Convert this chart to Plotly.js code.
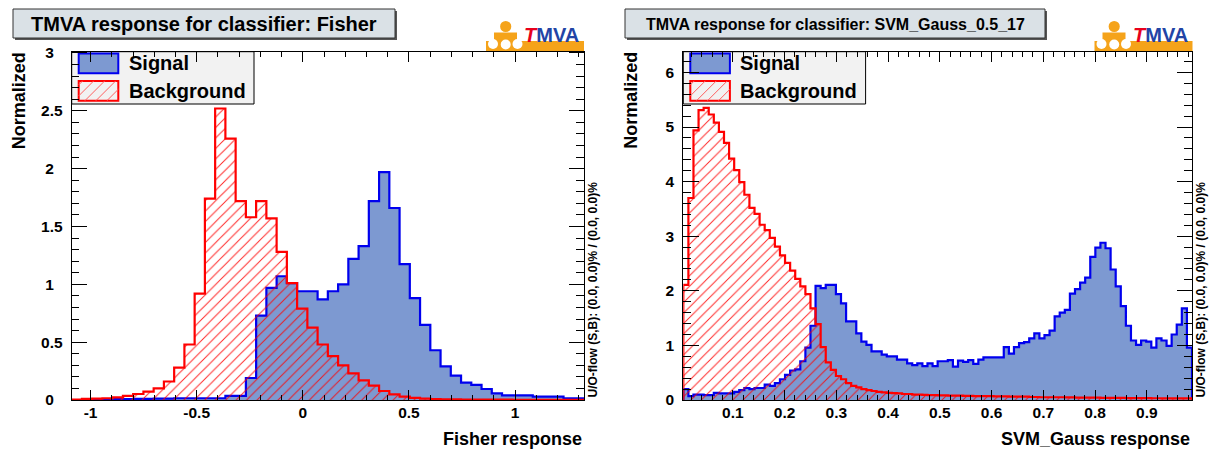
<!DOCTYPE html>
<html><head><meta charset="utf-8">
<script src="https://cdn.plot.ly/plotly-3.0.1.min.js"></script>
<style>html,body{margin:0;padding:0;background:#fff;} #chart{width:1215px;height:453px;}</style>
</head><body><div id="chart"></div>
<script>
// ---------------- data ----------------
// Fisher: 50 bins
const fisherLow = -1.089, fisherBinWidth = 0.04828;
const fisherSignal = [
  0.0, 0.003, 0.005, 0.006, 0.008, 0.008, 0.01, 0.01, 0.012, 0.012,
  0.015, 0.015, 0.015, 0.015, 0.015, 0.035, 0.035, 0.19, 0.73, 0.97,
  1.07, 1.01, 0.94, 0.94, 0.87, 0.94, 1.00, 1.22, 1.33, 1.72,
  1.97, 1.66, 1.175, 0.88, 0.65, 0.43, 0.29, 0.21, 0.15, 0.13,
  0.095, 0.058, 0.04, 0.04, 0.04, 0.03, 0.03, 0.03, 0.015, 0.015];
const fisherBackground = [
  0.004, 0.010, 0.012, 0.015, 0.023, 0.035, 0.052, 0.072, 0.10, 0.16,
  0.28, 0.48, 0.92, 1.74, 2.52, 2.26, 1.72, 1.58, 1.72, 1.57,
  1.28, 1.01, 0.79, 0.625, 0.48, 0.38, 0.30, 0.23, 0.17, 0.125,
  0.078, 0.049, 0.029, 0.018, 0.012, 0.008, 0.006, 0.005, 0.004, 0.004,
  0.003, 0.003, 0.003, 0.002, 0.002, 0.002, 0.002, 0.001, 0.001, 0.001];
// SVM_Gauss: 100 bins
const svmLow = 0.0042, svmBinWidth = 0.009831;
const svmSignal = [
  0.20, 0.07, 0.10, 0.10, 0.09, 0.09, 0.13, 0.12, 0.12, 0.12,
  0.15, 0.18, 0.22, 0.20, 0.22, 0.22, 0.28, 0.26, 0.31, 0.38,
  0.46, 0.54, 0.56, 0.71, 0.96, 1.36, 2.09, 2.05, 2.11, 2.11,
  1.94, 1.77, 1.44, 1.44, 1.22, 1.07, 1.01, 0.89, 0.89, 0.83,
  0.80, 0.80, 0.74, 0.74, 0.67, 0.64, 0.67, 0.62, 0.67, 0.62,
  0.71, 0.71, 0.73, 0.61, 0.72, 0.70, 0.73, 0.66, 0.74, 0.78,
  0.78, 0.78, 0.78, 0.97, 0.85, 0.97, 1.04, 1.06, 1.13, 1.22,
  1.13, 1.19, 1.27, 1.53, 1.60, 1.65, 1.95, 2.03, 2.15, 2.24,
  2.62, 2.79, 2.88, 2.78, 2.39, 2.08, 1.72, 1.36, 1.09, 1.01,
  1.09, 1.07, 0.96, 1.13, 1.09, 0.99, 1.20, 1.38, 1.68, 0.96];
const svmBackground = [
  2.11, 3.70, 4.94, 5.31, 5.35, 5.23, 5.08, 4.91, 4.71, 4.42,
  4.21, 3.99, 3.76, 3.52, 3.41, 3.21, 3.11, 2.97, 2.81, 2.65,
  2.51, 2.37, 2.22, 2.08, 1.94, 1.68, 1.39, 0.97, 0.69, 0.55,
  0.44, 0.38, 0.31, 0.26, 0.23, 0.20, 0.18, 0.165, 0.15, 0.14,
  0.13, 0.125, 0.12, 0.11, 0.11, 0.10, 0.10, 0.095, 0.09, 0.09,
  0.085, 0.085, 0.08, 0.08, 0.08, 0.075, 0.075, 0.07, 0.07, 0.07,
  0.07, 0.065, 0.065, 0.065, 0.06, 0.06, 0.06, 0.06, 0.055, 0.055,
  0.05, 0.05, 0.05, 0.05, 0.05, 0.048, 0.048, 0.045, 0.045, 0.045,
  0.042, 0.042, 0.04, 0.04, 0.04, 0.038, 0.038, 0.035, 0.035, 0.035,
  0.033, 0.033, 0.032, 0.032, 0.03, 0.03, 0.03, 0.03, 0.03, 0.03];

const fisherXTickVals = [-1, -0.5, 0, 0.5, 1];
const fisherXTickText = ["-1", "-0.5", "0", "0.5", "1"];
const fisherYTickVals = [0, 0.5, 1, 1.5, 2, 2.5, 3];
const fisherYTickText = ["0", "0.5", "1", "1.5", "2", "2.5", "3"];
const svmXTickVals = [0.1, 0.2, 0.3, 0.4, 0.5, 0.6, 0.7, 0.8, 0.9];
const svmXTickText = ["0.1", "0.2", "0.3", "0.4", "0.5", "0.6", "0.7", "0.8", "0.9"];
const svmYTickVals = [0, 1, 2, 3, 4, 5, 6];
const svmYTickText = ["0", "1", "2", "3", "4", "5", "6"];

const titles = ["TMVA response for classifier: Fisher", "TMVA response for classifier: SVM_Gauss_0.5_17"];
const xTitles = ["Fisher response", "SVM_Gauss response"];
const yTitle = "Normalized";
const legendLabels = ["Signal", "Background"];
const overflowText = "U/O-flow (S,B): (0.0, 0.0)% / (0.0, 0.0)%";

// ---------------- helpers ----------------
const W = 1215, H = 453;
const FONT = 'Liberation Sans, Arial, Helvetica, sans-serif';
const px = x => x / W, py = y => 1 - y / H;
const SIG_LINE = '#0000ee', SIG_FILL = '#7d99d1', BKG = '#ff0000';

function stepXY(lo, width, vals) {
  const xs = [lo], ys = [0];
  for (let i = 0; i < vals.length; i++) { xs.push(lo + i * width); ys.push(vals[i]); }
  const hi = lo + vals.length * width;
  xs.push(hi); ys.push(vals[vals.length - 1]);
  xs.push(hi); ys.push(0);
  return {x: xs, y: ys};
}
function sigTrace(lo, w, vals, xa, ya) {
  const d = stepXY(lo, w, vals);
  return {x: d.x, y: d.y, xaxis: xa, yaxis: ya, type: 'scatter', mode: 'lines',
    line: {shape: 'hv', color: SIG_LINE, width: 2.2}, fill: 'tozeroy', fillcolor: SIG_FILL,
    hoverinfo: 'skip', showlegend: false};
}
function bkgTrace(lo, w, vals, xa, ya) {
  const d = stepXY(lo, w, vals);
  return {x: d.x, y: d.y, xaxis: xa, yaxis: ya, type: 'scatter', mode: 'lines',
    line: {shape: 'hv', color: BKG, width: 2.2}, fill: 'tozeroy', fillcolor: 'rgba(0,0,0,0)',
    fillpattern: {shape: '/', fgcolor: BKG, bgcolor: 'rgba(0,0,0,0)', size: 7.4, solidity: 0.13, fgopacity: 0.85},
    hoverinfo: 'skip', showlegend: false};
}

const shapes = [], annotations = [];
function rect(x0, y0, x1, y1, fill, lc, lw, layer) {
  shapes.push({type: 'rect', xref: 'paper', yref: 'paper', x0: px(x0), x1: px(x1), y0: py(y1), y1: py(y0),
    fillcolor: fill, line: {color: lc || 'rgba(0,0,0,0)', width: lw || 0}, layer: layer || 'below'});
}
function circle(cx, cy, r, fill) {
  shapes.push({type: 'circle', xref: 'paper', yref: 'paper', x0: px(cx - r), x1: px(cx + r), y0: py(cy + r), y1: py(cy - r),
    fillcolor: fill, line: {width: 0}, layer: 'below'});
}
function hatch(x0, y0, x1, y1, step, color) {
  let d = '';
  for (let c = x0 + y0 + 4; c < x1 + y1; c += step) {
    const xs = Math.max(x0, c - y1), xe = Math.min(x1, c - y0);
    if (xe > xs) d += 'M' + px(xs) + ',' + py(c - xs) + 'L' + px(xe) + ',' + py(c - xe);
  }
  shapes.push({type: 'path', xref: 'paper', yref: 'paper', path: d, line: {color: color, width: 1}, layer: 'below'});
}
function text(x, y, t, size, opts) {
  annotations.push(Object.assign({xref: 'paper', yref: 'paper', x: px(x), y: py(y), text: t, showarrow: false,
    font: {family: FONT, size: size, color: '#000', weight: 'bold'}, xanchor: 'center', yanchor: 'middle'}, opts || {}));
}

// panel decorations
function panel(frameL, frameR, title, box, titleSize, logoX, xTitle) {
  // title box with shadow
  rect(box[0] + 2, 11, box[1] + 2, 40, '#555555');
  rect(box[0], 9, box[1], 38, '#dae1e6', '#333333', 1);
  text((box[0] + box[1]) / 2, 24, title, titleSize);
  // logo
  rect(logoX + 1, 41, logoX + 99, 51, '#f5a31a');
  circle(logoX + 20.7, 26.5, 5.6, '#f5a31a');
  rect(logoX + 9, 32.5, logoX + 32, 42, '#f5a31a');
  circle(logoX + 8, 44, 5, '#ffffff');
  circle(logoX + 20.7, 44.5, 5, '#ffffff');
  circle(logoX + 32.5, 44, 5, '#ffffff');
  text(logoX + 37, 35.5, '<i><span style="color:#e8001c">T</span></i><span style="color:#2244a5">MVA</span>', 20, {xanchor: 'left'});
  // legend
  rect(frameL, 51.7, frameL + 182.3, 104, '#f2f2f2', '#000', 1);
  rect(frameL + 7, 53.5, frameL + 46.6, 73.3, SIG_FILL, SIG_LINE, 2);
  rect(frameL + 7, 80.9, frameL + 46.6, 100.7, 'rgba(0,0,0,0)', BKG, 2);
  hatch(frameL + 7, 80.9, frameL + 46.6, 100.7, 11, '#ff6060');
  text(frameL + 55, 63.5, legendLabels[0], 20, {xanchor: 'left'});
  text(frameL + 55, 91, legendLabels[1], 20, {xanchor: 'left'});
  // axis titles
  text(frameR, 439, xTitle, 18, {xanchor: 'right'});
  text(frameL - 53, 50, yTitle, 18, {textangle: -90, yanchor: 'top'});
  text(frameR + 8.5, 400, overflowText, 12, {textangle: -90, yanchor: 'bottom'});
}

const L = [71.7, 584], R = [683.3, 1192];
const ydom = [py(400), py(51.7)];
panel(L[0], L[1], titles[0], [13, 395], 20, 485, xTitles[0]);
panel(R[0], R[1], titles[1], [625, 1045], 16, 1093.5, xTitles[1]);

const base = {showline: true, linecolor: '#000', linewidth: 1, mirror: 'allticks', ticks: 'inside',
  tickcolor: '#000', tickwidth: 1, showgrid: false, zeroline: false, fixedrange: true,
  tickfont: {family: FONT, size: 15.5, color: '#000', weight: 'bold'}, tickmode: 'array'};
function minor(dtick, len) { return {ticks: 'inside', tickmode: 'linear', tick0: 0, dtick: dtick, ticklen: len, tickcolor: '#000', tickwidth: 1, showgrid: false}; }

const data = [
  sigTrace(fisherLow, fisherBinWidth, fisherSignal, 'x', 'y'),
  bkgTrace(fisherLow, fisherBinWidth, fisherBackground, 'x', 'y'),
  sigTrace(svmLow, svmBinWidth, svmSignal, 'x2', 'y2'),
  bkgTrace(svmLow, svmBinWidth, svmBackground, 'x2', 'y2')
];
const padInt = t => (t.indexOf('.') < 0 ? t + '\u2007' : t);
const layout = {
  width: W, height: H, margin: {l: 0, r: 0, t: 0, b: 0}, paper_bgcolor: '#ffffff', plot_bgcolor: 'rgba(0,0,0,0)',
  showlegend: false,
  xaxis: Object.assign({}, base, {domain: [px(L[0]), px(L[1])], range: [fisherLow, fisherLow + 50 * fisherBinWidth], anchor: 'y',
    tickvals: fisherXTickVals, ticktext: fisherXTickText, ticklen: 10.4, minor: minor(0.1, 5.2), ticklabelstandoff: -2}),
  yaxis: Object.assign({}, base, {domain: ydom, range: [0, 3.011], anchor: 'x',
    tickvals: fisherYTickVals, ticktext: fisherYTickText.map(padInt), ticklen: 15.4, minor: minor(0.1, 7.7), ticklabelstandoff: 5}),
  xaxis2: Object.assign({}, base, {domain: [px(R[0]), px(R[1])], range: [svmLow, svmLow + 100 * svmBinWidth], anchor: 'y2',
    tickvals: svmXTickVals, ticktext: svmXTickText, ticklen: 10.4, minor: minor(0.02, 5.2), ticklabelstandoff: -2}),
  yaxis2: Object.assign({}, base, {domain: ydom, range: [0, 6.38], anchor: 'x2',
    tickvals: svmYTickVals, ticktext: svmYTickText, ticklen: 15.2, minor: minor(0.2, 7.6), ticklabelstandoff: 5}),
  shapes: shapes, annotations: annotations
};
Plotly.newPlot('chart', data, layout, {displayModeBar: false, staticPlot: true});
</script></body></html>
